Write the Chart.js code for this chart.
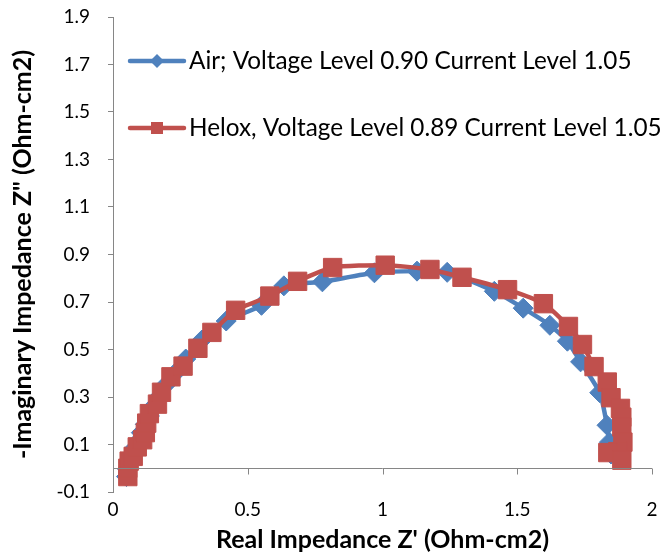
<!DOCTYPE html>
<html>
<head>
<meta charset="utf-8">
<title>Impedance — Air vs Helox</title>
<script src="https://cdn.jsdelivr.net/npm/chart.js@4.4.1/dist/chart.umd.min.js"></script>
<style>
    html, body { margin: 0; padding: 0; background: #fff; }
    #wrap { width: 666px; height: 553px; position: relative; }
</style>
</head>
<body>
<div id="wrap"><canvas id="nyquist"></canvas></div>
<script>
// ─── DATA ───
// Air; Voltage Level 0.90 Current Level 1.05
const airReal = [0.05, 0.055, 0.06, 0.07, 0.08, 0.095, 0.105, 0.12, 0.135, 0.15, 0.17, 0.195, 0.23, 0.27, 0.33, 0.42,
    0.551, 0.634, 0.777, 0.97, 1.128, 1.24, 1.415, 1.522, 1.621, 1.686, 1.735, 1.806, 1.833, 1.842, 1.848];
const airImag = [-0.035, -0.005, 0.025, 0.055, 0.085, 0.115, 0.15, 0.185, 0.22, 0.26, 0.3, 0.35, 0.4, 0.46, 0.54, 0.62,
    0.686, 0.768, 0.785, 0.823, 0.83, 0.825, 0.745, 0.674, 0.602, 0.535, 0.448, 0.318, 0.181, 0.11, 0.06];

// Helox, Voltage Level 0.89 Current Level 1.05
const heloxReal = [0.055, 0.055, 0.06, 0.075, 0.09, 0.11, 0.12, 0.125, 0.135, 0.165, 0.18, 0.215, 0.26, 0.315, 0.367, 0.455,
    0.582, 0.685, 0.815, 1.01, 1.176, 1.295, 1.464, 1.597, 1.69, 1.742, 1.785, 1.834, 1.848, 1.883, 1.888, 1.888,
    1.892, 1.873, 1.836, 1.888];
const heloxImag = [-0.035, 0.0, 0.03, 0.05, 0.09, 0.12, 0.15, 0.19, 0.23, 0.27, 0.32, 0.385, 0.43, 0.505, 0.572, 0.665,
    0.725, 0.787, 0.845, 0.855, 0.837, 0.804, 0.752, 0.693, 0.597, 0.521, 0.428, 0.363, 0.297, 0.252, 0.215, 0.174,
    0.11, 0.07, 0.066, 0.034];

const seriesNames = ['Air; Voltage Level 0.90 Current Level 1.05', 'Helox, Voltage Level 0.89 Current Level 1.05'];
const xTicks = [0, 0.5, 1, 1.5, 2];
const yTicks = [-0.1, 0.1, 0.3, 0.5, 0.7, 0.9, 1.1, 1.3, 1.5, 1.7, 1.9];

(function () {
    'use strict';

    const BLUE = '#4F81BD';
    const RED = '#C0504D';
    const AXIS = '#868686';
    const FONT = 'Lato';

    const pts = (xs, ys) => xs.map((x, i) => ({ x: x, y: ys[i] }));

    // ─── X AXIS LINE AT Z'' = 0 ───
    // the horizontal axis crosses at zero, its labels stay at the bottom
    const zeroAxis = {
        id: 'zeroAxis',
        afterDatasetsDraw(chart) {
            const { ctx, chartArea, scales } = chart;
            const y0 = Math.round(scales.y.getPixelForValue(0)) + 0.5;
            ctx.save();
            ctx.strokeStyle = AXIS;
            ctx.lineWidth = 1;
            ctx.beginPath();
            ctx.moveTo(chartArea.left, y0);
            ctx.lineTo(chartArea.right, y0);
            xTicks.forEach(v => {
                const x = Math.round(scales.x.getPixelForValue(v)) + 0.5;
                ctx.moveTo(x, y0);
                ctx.lineTo(x, y0 + 6);
            });
            ctx.stroke();
            ctx.restore();
        }
    };

    // ─── LEGEND (inside the plot, top left) ───
    const insideLegend = {
        id: 'insideLegend',
        afterDraw(chart) {
            const { ctx, chartArea } = chart;
            const rows = [
                { text: seriesNames[0], color: BLUE, shape: 'diamond', y: chartArea.top + 44 },
                { text: seriesNames[1], color: RED, shape: 'square', y: chartArea.top + 111 }
            ];
            const x0 = chartArea.left + 17, x1 = chartArea.left + 71, xm = (x0 + x1) / 2;
            ctx.save();
            rows.forEach(r => {
                ctx.strokeStyle = r.color;
                ctx.fillStyle = r.color;
                ctx.lineWidth = 4.5;
                ctx.lineCap = 'round';
                ctx.beginPath();
                ctx.moveTo(x0, r.y);
                ctx.lineTo(x1, r.y);
                ctx.stroke();
                ctx.beginPath();
                if (r.shape === 'diamond') {
                    ctx.moveTo(xm, r.y - 7);
                    ctx.lineTo(xm + 7, r.y);
                    ctx.lineTo(xm, r.y + 7);
                    ctx.lineTo(xm - 7, r.y);
                    ctx.closePath();
                } else {
                    ctx.rect(xm - 6, r.y - 6, 12, 12);
                }
                ctx.fill();
                ctx.fillStyle = '#000';
                ctx.font = '24.3px ' + FONT;
                ctx.textBaseline = 'middle';
                ctx.textAlign = 'left';
                ctx.fillText(r.text, x1 + 5, r.y);
            });
            ctx.restore();
        }
    };

    // ─── CHART ───
    function initChart() {
        const el = document.getElementById('nyquist');

        new Chart(el, {
            type: 'scatter',
            data: {
                datasets: [
                    {
                        label: seriesNames[0], data: pts(airReal, airImag), order: 2,
                        showLine: true, borderColor: BLUE, backgroundColor: BLUE, borderWidth: 4.5,
                        pointStyle: 'rectRot', pointRadius: 10, pointBorderWidth: 1, tension: 0.2
                    },
                    {
                        label: seriesNames[1], data: pts(heloxReal, heloxImag), order: 1,
                        showLine: true, borderColor: RED, backgroundColor: RED, borderWidth: 4.5,
                        pointStyle: 'rect', pointRadius: 13, pointBorderWidth: 1, tension: 0.2
                    }
                ]
            },
            options: {
                responsive: true,
                maintainAspectRatio: false,
                animation: false,
                events: [],
                layout: { padding: { left: 0, right: 10, top: 17, bottom: 0 } },
                plugins: { legend: { display: false }, tooltip: { enabled: false } },
                scales: {
                    x: {
                        type: 'linear', min: 0, max: 2,
                        afterBuildTicks: s => { s.ticks = xTicks.map(v => ({ value: v })); },
                        afterFit: s => { s.height = 61; s.paddingLeft = 0; s.paddingRight = 0; },
                        grid: { display: false, drawTicks: false },
                        border: { display: false },
                        ticks: { color: '#000', padding: 6, font: { family: FONT, size: 19 }, callback: v => String(v) },
                        title: {
                            display: true, text: "Real Impedance Z' (Ohm-cm2)", color: '#000',
                            font: { family: FONT, size: 25, weight: 'bold', lineHeight: 1.04 }, padding: { top: 0, bottom: 0 }
                        }
                    },
                    y: {
                        type: 'linear', min: -0.1, max: 1.9,
                        afterBuildTicks: s => { s.ticks = yTicks.map(v => ({ value: v })); },
                        afterFit: s => { s.width = 113; s.paddingTop = 0; s.paddingBottom = 0; },
                        grid: { drawOnChartArea: false, drawTicks: true, tickLength: 5, color: AXIS },
                        border: { display: true, color: AXIS, width: 1 },
                        ticks: { color: '#000', padding: 18, font: { family: FONT, size: 19 }, callback: v => v.toFixed(1) },
                        title: {
                            display: true, text: '-Imaginary Impedance Z" (Ohm-cm2)', color: '#000',
                            font: { family: FONT, size: 25, weight: 'bold', lineHeight: 1.04 }, padding: { top: 10, bottom: 0 }
                        }
                    }
                }
            },
            plugins: [zeroAxis, insideLegend]
        });
    }

    document.addEventListener('DOMContentLoaded', initChart);
})();
</script>
</body>
</html>
